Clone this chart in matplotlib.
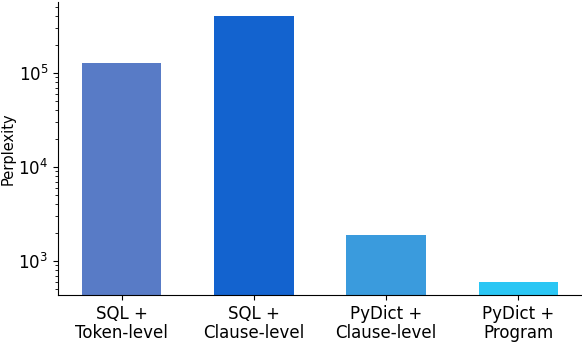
import matplotlib.pyplot as plt
import numpy as np

# Data
labels = ['SQL +\nToken-level', 'SQL +\nClause-level', 'PyDict +\nClause-level', 'PyDict +\nProgram']
perplexity = [127000, 404000, 1890, 598]
colors = ['#587BC6', '#1363CF', '#3A9BDD', '#2AC6F4']

fig = plt.figure(figsize=(5.82, 3.42), dpi=100)
ax = fig.add_axes([58 / 582, 1 - 295 / 342, 1 - 58 / 582, 293 / 342])

x = np.arange(len(labels))
ax.bar(x, perplexity, width=0.6, color=colors)
ax.set_yscale('log')
ax.set_ylim(435, 569000)
ax.set_xticks(x)
ax.set_xticklabels(labels, fontsize=12, linespacing=1.1)
ax.tick_params(axis='y', labelsize=12)
ax.set_ylabel('Perplexity', fontsize=10.5, labelpad=2)

# Clean look: no top/right spines
ax.spines['top'].set_visible(False)
ax.spines['right'].set_visible(False)

fig.savefig('out.png', dpi=100)
